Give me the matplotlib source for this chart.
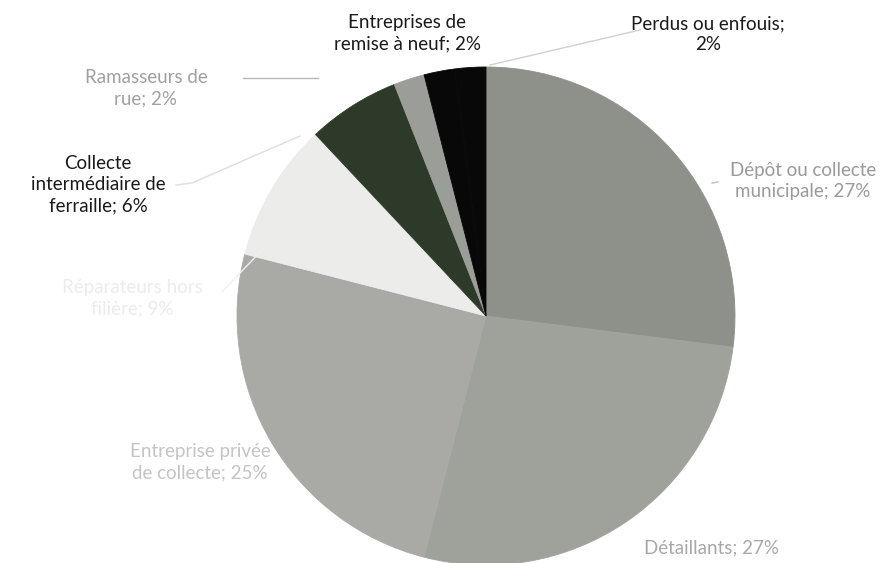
import matplotlib
matplotlib.use("Agg")
import matplotlib.pyplot as plt

categories = [
    "Dépôt ou collecte\nmunicipale",
    "Détaillants",
    "Entreprise privée\nde collecte",
    "Réparateurs hors\nfilière",
    "Collecte\nintermédiaire de\nferraille",
    "Ramasseurs de\nrue",
    "Entreprises de\nremise à neuf",
    "Perdus ou enfouis;\n",
]
values = [27, 27, 25, 9, 6, 2, 2, 2]
colors = ["#8e908a", "#9fa19b", "#a9aaa6", "#ececea", "#2d3a29", "#9b9d98", "#080808", "#080808"]

W, H = 892, 563
fig = plt.figure(figsize=(W / 100, H / 100), dpi=100)
ax = fig.add_axes([0, 0, 1, 1])

def Y(py):
    return H - py

wedges, _ = ax.pie(values, colors=colors, startangle=90, counterclock=False,
                   center=(486, Y(316)), radius=249, frame=True)
for w, c in zip(wedges, colors):
    w.set_edgecolor(c)
    w.set_linewidth(0.6)
ax.set_xlim(0, W)
ax.set_ylim(0, H)
ax.set_aspect("equal")
ax.axis("off")

fam = ["Lato", "DejaVu Sans"]
fs = 13.5

def lab(i, px, py, color):
    name = categories[i]
    if name.endswith(";\n"):
        txt = f"{name}{values[i]}%"
    else:
        txt = f"{name}; {values[i]}%"
    ax.text(px, Y(py), txt, ha="center", va="center", fontsize=fs,
            family=fam, color=color, linespacing=1.3)

lab(6, 407, 33, "#1a1a1a")
lab(7, 708, 34, "#1a1a1a")
lab(0, 803, 181, "#9a9a9a")
lab(1, 712, 548, "#a8a8a8")
lab(2, 200, 462, "#c4c4c4")
lab(3, 132, 298, "#ececec")
lab(4, 98, 185, "#1a1a1a")
lab(5, 146, 88, "#a0a0a0")

lc = "#b8b8b8"
ax.plot([243, 318], [Y(78), Y(78)], color=lc, lw=1)
ax.plot([490, 640], [Y(65), Y(30)], color="#d0d0d0", lw=1)
ax.plot([176, 192, 300], [Y(185), Y(183), Y(136)], color="#dedede", lw=1)
ax.plot([222, 262], [Y(292), Y(250)], color="#efefef", lw=1)
ax.plot([712, 718], [Y(183), Y(182)], color="#c0c0c0", lw=1)

fig.savefig("out.png", dpi=100)
